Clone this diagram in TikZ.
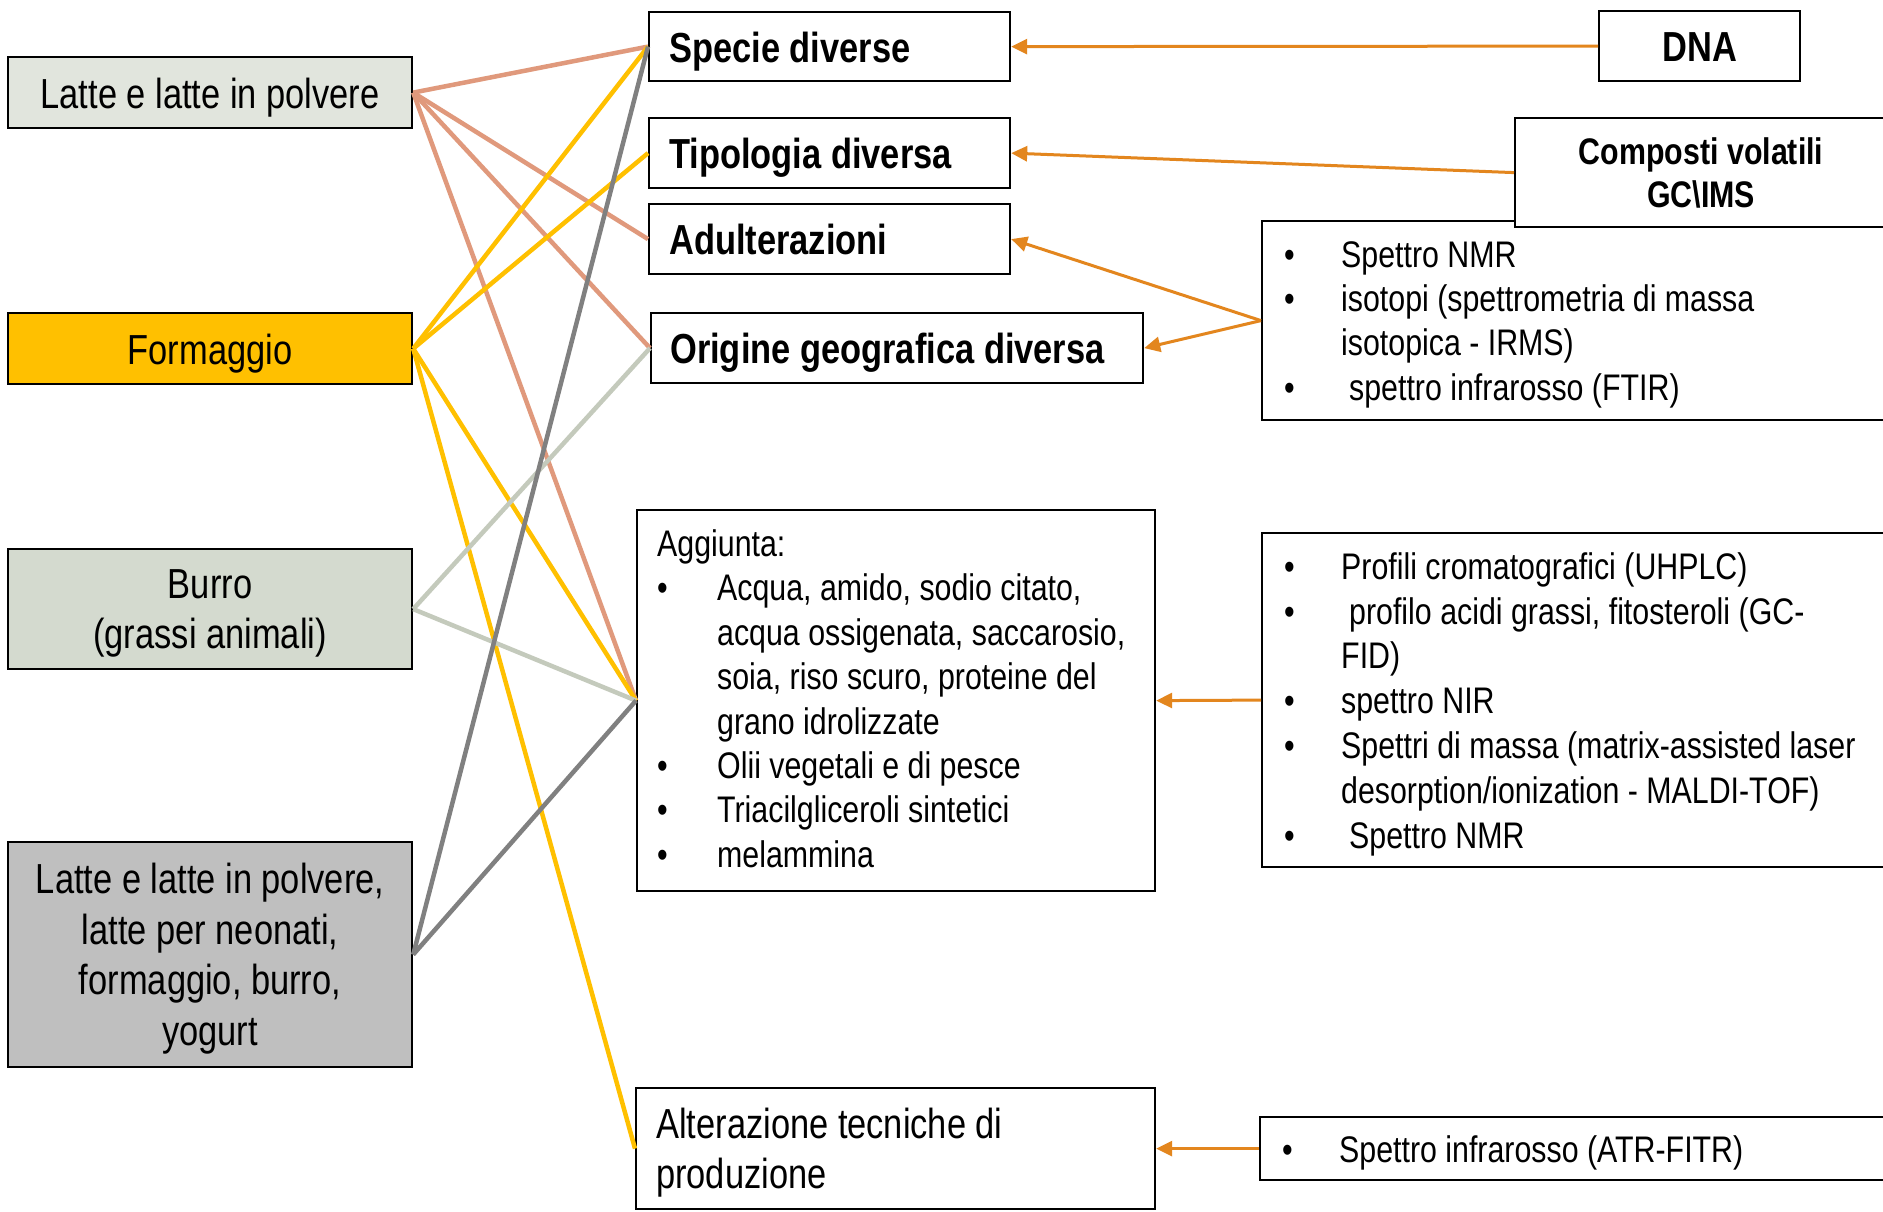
\documentclass[tikz,border=0pt]{standalone}
\usepackage{fontspec}
\IfFontExistsTF{Liberation Sans Narrow}
  {\setmainfont{Liberation Sans Narrow}}
  {\setmainfont{Liberation Sans}[FakeStretch=0.82]}
\usetikzlibrary{arrows.meta}

\definecolor{salmon}{HTML}{E0997C}
\definecolor{gold}{HTML}{FFC000}
\definecolor{sage}{HTML}{C4CABC}
\definecolor{slate}{HTML}{808080}
\definecolor{tangerine}{HTML}{E3861E}
\definecolor{paleA}{HTML}{E1E5DD}
\definecolor{paleB}{HTML}{D4DACF}
\definecolor{greyfill}{HTML}{BFBFBF}

% bullet item and continuation line
\newcommand{\bul}[2][57pt]{\makebox[#1][l]{\textbullet}#2}
\newcommand{\cnt}[2][57pt]{\hspace*{#1}#2}

\begin{document}
\begin{tikzpicture}[x=1pt,y=-1pt,
  base/.style={draw=black, line width=2.2pt, rectangle, anchor=north west,
    inner sep=0pt},
  big/.style={font=\fontsize{42pt}{50.4pt}\selectfont},
  bigbold/.style={font=\fontsize{42pt}{50.4pt}\selectfont\bfseries},
  small/.style={font=\fontsize{37pt}{44.4pt}\selectfont},
  frame/.style={base, fill=white},
  srcbox/.style={base, minimum width=404pt},
  % text set inside a frame
  inside/.style={anchor=west, inner sep=0pt, align=left, yshift=-4pt},
  centred/.style={anchor=center, inner sep=0pt, align=center, yshift=-4pt},
  oneline/.style={text height=30pt, text depth=9pt, yshift=-1pt},
  link/.style={line width=4.5pt},
  arr/.style={tangerine, line width=3pt, -{Triangle[length=16pt,width=15pt]}}
]
\clip (0,0) rectangle (1883,1211);
\fill[white] (0,0) rectangle (1883,1211);

% product boxes
\node[srcbox, fill=paleA, minimum height=71pt] (latte) at (7,56) {};
\node[srcbox, fill=gold, minimum height=71pt] (form) at (7,312) {};
\node[srcbox, fill=paleB, minimum height=120pt] (burro) at (7,548) {};
\node[srcbox, fill=greyfill, minimum height=225pt] (misto) at (7,841) {};

\node[centred, oneline, big] (latte-t) at (latte.center) {Latte e latte in polvere};
\node[centred, oneline, big] (form-t) at (form.center) {Formaggio};
\node[centred, big] (burro-t) at (burro.center) {Burro\\(grassi animali)};
\node[centred, big] (misto-t) at (misto.center)
  {Latte e latte in polvere,\\latte per neonati,\\formaggio, burro,\\yogurt};

% fraud categories
\node[frame, minimum width=361pt, minimum height=69pt] (specie) at (648,11) {};
\node[frame, minimum width=361pt, minimum height=70pt] (tipo) at (648,117) {};
\node[frame, minimum width=361pt, minimum height=70pt] (adult) at (648,203) {};
\node[frame, minimum width=492pt, minimum height=70pt] (origine) at (650,312) {};
\node[frame, minimum width=518pt, minimum height=381pt] (aggiunta) at (636,509) {};
\node[frame, minimum width=519pt, minimum height=121pt] (alter) at (635,1087) {};

\node[inside, oneline, bigbold] (specie-t) at ([xshift=21pt]specie.west) {Specie diverse};
\node[inside, oneline, bigbold] (tipo-t) at ([xshift=21pt]tipo.west) {Tipologia diversa};
\node[inside, oneline, bigbold] (adult-t) at ([xshift=21pt]adult.west) {Adulterazioni};
\node[inside, oneline, bigbold] (origine-t) at ([xshift=20pt]origine.west) {Origine geografica diversa};
\node[inside, small, yshift=6pt] (aggiunta-t) at ([xshift=21pt]aggiunta.west)
  {Aggiunta:\\
   \bul[60pt]{Acqua, amido, sodio citato,}\\
   \cnt[60pt]{acqua ossigenata, saccarosio,}\\
   \cnt[60pt]{soia, riso scuro, proteine del}\\
   \cnt[60pt]{grano idrolizzate}\\
   \bul[60pt]{Olii vegetali e di pesce}\\
   \bul[60pt]{Triacilgliceroli sintetici}\\
   \bul[60pt]{melammina}};
\node[inside, big] (alter-t) at ([xshift=21pt]alter.west)
  {Alterazione tecniche di\\produzione};

% links from products to categories
\draw[link, salmon] (latte.east) -- (specie.west);
\draw[link, salmon] (latte.east) -- (adult.west);
\draw[link, salmon] (latte.east) -- (origine.west);
\draw[link, salmon] (latte.east) -- (aggiunta.west);
\draw[link, gold] (form.east) -- (specie.west);
\draw[link, gold] (form.east) -- (tipo.west);
\draw[link, gold] (form.east) -- (aggiunta.west);
\draw[link, gold] (form.east) -- (alter.west);
\draw[link, sage] (burro.east) -- (origine.west);
\draw[link, sage] (burro.east) -- (aggiunta.west);
\draw[link, slate] (misto.east) -- (specie.west);
\draw[link, slate] (misto.east) -- (aggiunta.west);

% analytical methods
\node[frame, minimum width=201pt, minimum height=70pt] (dna) at (1598,10) {};
\node[frame, minimum width=640pt, minimum height=199pt] (nmr) at (1261,220) {};
\node[frame, minimum width=372pt, minimum height=109pt, align=center,
  font=\fontsize{37pt}{43pt}\selectfont\bfseries] (comp) at (1514,117)
  {Composti volatili\\GC\textbackslash IMS};
\node[frame, minimum width=640pt, minimum height=334pt] (profili) at (1261,532) {};
\node[frame, minimum width=640pt, minimum height=63pt] (infra) at (1259,1116) {};

\node[centred, oneline, bigbold] (dna-t) at (dna.center) {DNA};
\node[inside, small] (nmr-t) at ([xshift=23pt]nmr.west)
  {\bul{Spettro NMR}\\
   \bul{isotopi (spettrometria di massa}\\
   \cnt{isotopica - IRMS)}\\
   \bul{\hspace*{8pt}spettro infrarosso (FTIR)}};
\node[inside, font=\fontsize{37pt}{44.8pt}\selectfont] (profili-t) at ([xshift=23pt]profili.west)
  {\bul{Profili cromatografici (UHPLC)}\\
   \bul{\hspace*{8pt}profilo acidi grassi, fitosteroli (GC-}\\
   \cnt{FID)}\\
   \bul{spettro NIR}\\
   \bul{Spettri di massa (matrix-assisted laser}\\
   \cnt{desorption/ionization - MALDI-TOF)}\\
   \bul{\hspace*{8pt}Spettro NMR}};
\node[inside, small] (infra-t) at ([xshift=23pt]infra.west)
  {\bul{Spettro infrarosso (ATR-FITR)}};

% method arrows
\draw[arr] (dna.west) -- (specie.east);
\draw[arr] (comp.west) -- (tipo.east);
\draw[arr] (nmr.west) -- (adult.east);
\draw[arr] (nmr.west) -- (origine.east);
\draw[arr] (profili.west) -- (aggiunta.east);
\draw[arr] (infra.west) -- (alter.east);
\end{tikzpicture}
\end{document}
